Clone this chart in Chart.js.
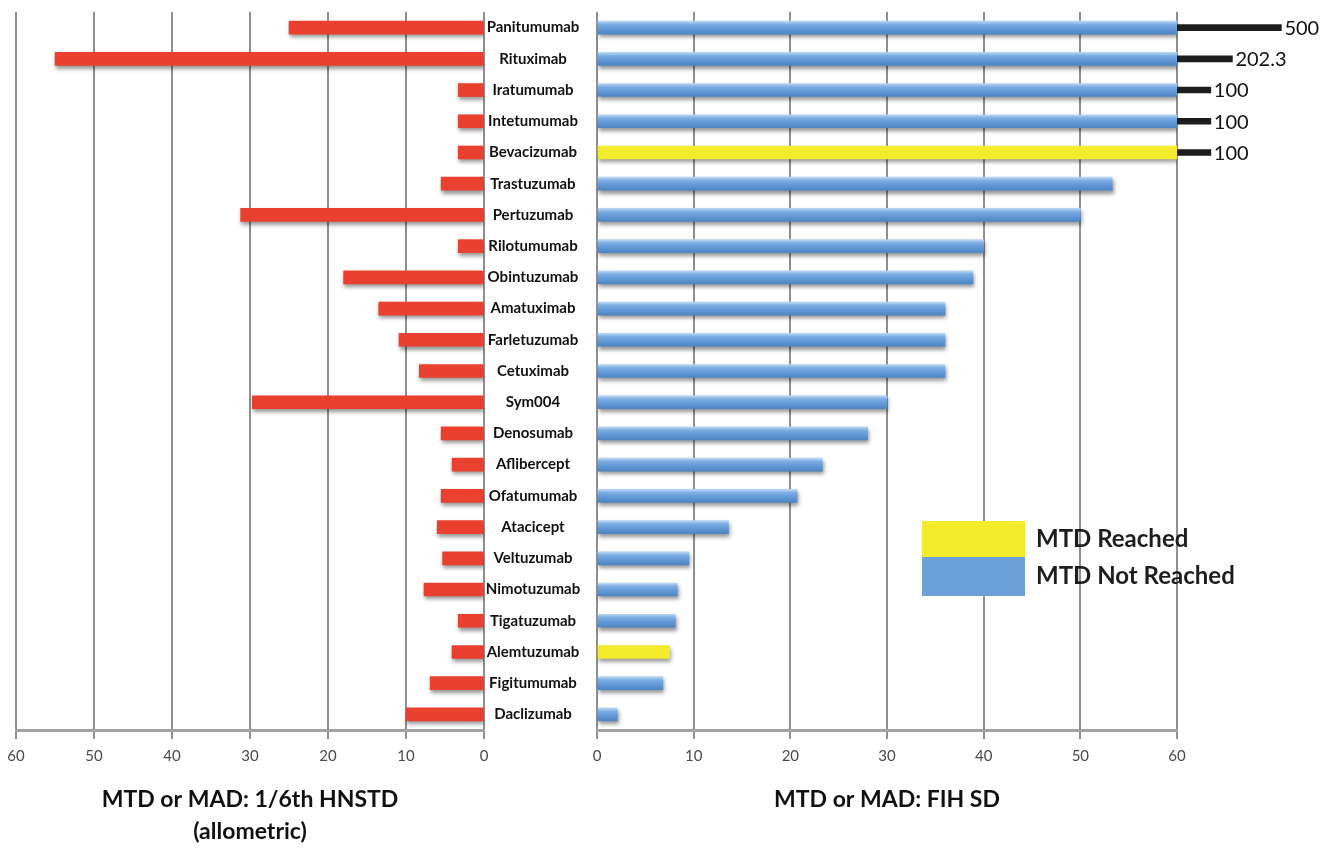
<!DOCTYPE html>
<html>
<head>
<meta charset="utf-8">
<title>MTD or MAD: 1/6th HNSTD vs FIH SD</title>
<script src="https://cdn.jsdelivr.net/npm/chart.js@4/dist/chart.umd.min.js"></script>
<style>
  html, body { margin: 0; padding: 0; background: #ffffff; }
  #wrap { position: relative; width: 1320px; height: 853px; overflow: hidden; }
  #leftChart { position: absolute; left: 0; top: 0; }
  #rightChart { position: absolute; left: 472px; top: 0; }
</style>
</head>
<body>
<div id="wrap">
  <canvas id="leftChart" width="500" height="853"></canvas>
  <canvas id="rightChart" width="848" height="853"></canvas>
</div>
<script>
// ---- data ----
const drugs = [
  'Panitumumab', 'Rituximab', 'Iratumumab', 'Intetumumab', 'Bevacizumab',
  'Trastuzumab', 'Pertuzumab', 'Rilotumumab', 'Obintuzumab', 'Amatuximab',
  'Farletuzumab', 'Cetuximab', 'Sym004', 'Denosumab', 'Aflibercept',
  'Ofatumumab', 'Atacicept', 'Veltuzumab', 'Nimotuzumab', 'Tigatuzumab',
  'Alemtuzumab', 'Figitumumab', 'Daclizumab'
];
// MTD or MAD expressed as 1/6th HNSTD (allometric)
const hnstdDose = [
  25, 55, 3.3, 3.3, 3.3,
  5.5, 31.2, 3.3, 18, 13.5,
  10.9, 8.3, 29.7, 5.5, 4.1,
  5.5, 6, 5.3, 7.7, 3.3,
  4.1, 6.9, 10
];
// MTD or MAD expressed as first-in-human starting dose
const fihDose = [
  500, 202.3, 100, 100, 100,
  53.3, 50, 40, 38.9, 36,
  36, 36, 30, 28, 23.3,
  20.7, 13.6, 9.5, 8.3, 8.1,
  7.5, 6.8, 2.1
];
const mtdReached = [
  false, false, false, false, true,
  false, false, false, false, false,
  false, false, false, false, false,
  false, false, false, false, false,
  true, false, false
];
const axisTicks = [0, 10, 20, 30, 40, 50, 60];
const AXIS_MAX = 60;

const leftTitle = ['MTD or MAD: 1/6th HNSTD', '(allometric)'];
const rightTitle = 'MTD or MAD: FIH SD';
const legendLabels = ['MTD Reached', 'MTD Not Reached'];

// ---- styling ----
const RED = '#e9402f';
const YELLOW = '#f3ea2c';
const BLUE = '#6ba0d9';
const OVERFLOW = '#1d1d1d';
const GRID = '#8e8e8e';
const FONT = 'Lato, "Open Sans", "DejaVu Sans", sans-serif';
const LABEL_SIZE = 15;

Chart.defaults.font.family = FONT;
Chart.defaults.animation = false;

// Doses beyond the axis are continued past the 60 line on a compressed length.
function overflowEnd(v) {
  return AXIS_MAX + 3.5 * Math.pow(v / 100, 0.7);
}

function fixedTicks(scale) {
  scale.ticks = axisTicks.map(v => ({ value: v }));
}

function blueFill(c) {
  const chart = c.chart;
  const y = chart.scales && chart.scales.y;
  if (c.type !== 'data' || !y || !chart.chartArea) return BLUE;
  const yc = y.getPixelForValue(c.dataIndex);
  const h = 12;
  const g = chart.ctx.createLinearGradient(0, yc - h / 2, 0, yc + h / 2);
  g.addColorStop(0, '#b4d2f1');
  g.addColorStop(0.22, '#7eaee2');
  g.addColorStop(0.6, '#6299d6');
  g.addColorStop(1, '#4f86c4');
  return g;
}

// Soft drop shadow under flagged datasets.
const shadowPlugin = {
  id: 'barShadow',
  beforeDatasetDraw(chart, args) {
    const ds = chart.data.datasets[args.index];
    const ctx = chart.ctx;
    ctx.save();
    if (ds.shadow) {
      ctx.shadowColor = 'rgba(0,0,0,0.42)';
      ctx.shadowBlur = 4;
      ctx.shadowOffsetX = 1;
      ctx.shadowOffsetY = 3;
    }
  },
  afterDatasetDraw(chart) {
    chart.ctx.restore();
  }
};

// Value text at the end of the off-scale segments.
const overflowLabels = {
  id: 'overflowLabels',
  afterDatasetsDraw(chart) {
    const idx = chart.data.datasets.findIndex(d => d.overflow);
    if (idx < 0) return;
    const meta = chart.getDatasetMeta(idx);
    const ctx = chart.ctx;
    ctx.save();
    ctx.font = '20px ' + FONT;
    ctx.fillStyle = '#111111';
    ctx.textAlign = 'left';
    ctx.textBaseline = 'middle';
    meta.data.forEach((el, i) => {
      if (fihDose[i] > AXIS_MAX) {
        ctx.fillText(String(fihDose[i]), el.x + 3, el.y + 1);
      }
    });
    ctx.restore();
  }
};

// Stacked colour-block legend inside the plot.
const blockLegend = {
  id: 'blockLegend',
  afterDatasetsDraw(chart, args, opts) {
    const ctx = chart.ctx;
    const a = chart.chartArea;
    const x = a.left + opts.left;
    let y = opts.top;
    ctx.save();
    ctx.font = 'bold 24px ' + FONT;
    ctx.textAlign = 'left';
    ctx.textBaseline = 'middle';
    opts.items.forEach(item => {
      ctx.fillStyle = item.color;
      ctx.fillRect(x, y, opts.width, item.height);
      ctx.fillStyle = '#1e1e1e';
      ctx.fillText(item.text, x + opts.width + 11, y + item.height / 2);
      y += item.height;
    });
    ctx.restore();
  }
};

function xAxis(title, titlePadBottom, reverse) {
  return {
    type: 'linear',
    position: 'bottom',
    min: 0,
    max: AXIS_MAX,
    reverse: reverse,
    afterBuildTicks: fixedTicks,
    afterFit(s) {
      s.height = 123;
      s.paddingLeft = 0;
      s.paddingRight = 0;
    },
    grid: { color: GRID, lineWidth: 2, tickLength: 9, tickColor: GRID },
    border: { color: '#a2a2a2', width: 3 },
    ticks: { color: '#4a4a4a', font: { size: 15 }, padding: 8, autoSkip: false, maxRotation: 0 },
    title: {
      display: true,
      text: title,
      color: '#111111',
      font: { size: 23, weight: 'bold', lineHeight: 1.4 },
      padding: { top: 0, bottom: titlePadBottom }
    }
  };
}

// ---- left panel ----
new Chart(document.getElementById('leftChart'), {
  type: 'bar',
  data: {
    labels: drugs,
    datasets: [{
      label: '1/6th HNSTD',
      data: hnstdDose,
      backgroundColor: RED,
      barThickness: 13,
      shadow: true
    }]
  },
  options: {
    responsive: false,
    indexAxis: 'y',
    layout: { padding: { left: 16, right: 16, top: 12, bottom: 0 } },
    plugins: { legend: { display: false }, tooltip: { enabled: false } },
    scales: {
      x: xAxis(leftTitle, 5, true),
      y: {
        display: false,
        afterFit(s) { s.paddingTop = 0; s.paddingBottom = 0; }
      }
    }
  },
  plugins: [shadowPlugin]
});

// ---- right panel ----
const measureCtx = document.createElement('canvas').getContext('2d');
measureCtx.font = 'bold ' + LABEL_SIZE + 'px ' + FONT;
const widestLabel = Math.max(...drugs.map(d => measureCtx.measureText(d).width));
const labelAxisWidth = 125;
const labelCenter = 61;
const cappedDose = fihDose.map(v => Math.min(v, AXIS_MAX));

new Chart(document.getElementById('rightChart'), {
  type: 'bar',
  data: {
    labels: drugs,
    datasets: [
      {
        label: legendLabels[0],
        data: cappedDose.map((v, i) => (mtdReached[i] ? v : null)),
        backgroundColor: YELLOW,
        barThickness: 13,
        shadow: true
      },
      {
        label: legendLabels[1],
        data: cappedDose.map((v, i) => (mtdReached[i] ? null : v)),
        backgroundColor: blueFill,
        barThickness: 13,
        shadow: true
      },
      {
        label: 'off-scale',
        data: fihDose.map(v => (v > AXIS_MAX ? [AXIS_MAX, overflowEnd(v)] : null)),
        backgroundColor: OVERFLOW,
        barThickness: 6,
        overflow: true,
        clip: false
      }
    ]
  },
  options: {
    responsive: false,
    indexAxis: 'y',
    datasets: { bar: { grouped: false } },
    layout: { padding: { left: 0, right: 143, top: 12, bottom: 0 } },
    plugins: {
      legend: { display: false },
      tooltip: { enabled: false },
      blockLegend: {
        left: 325,
        top: 521,
        width: 103,
        items: [
          { text: legendLabels[0], color: YELLOW, height: 36 },
          { text: legendLabels[1], color: BLUE, height: 39 }
        ]
      }
    },
    scales: {
      x: xAxis(rightTitle, 37, false),
      y: {
        position: 'left',
        afterFit(s) {
          s.width = labelAxisWidth;
          s.paddingTop = 0;
          s.paddingBottom = 0;
        },
        grid: { display: false, drawTicks: false },
        border: { display: false },
        ticks: {
          autoSkip: false,
          crossAlign: 'center',
          padding: labelAxisWidth - labelCenter - widestLabel / 2,
          color: '#111111',
          font: { size: LABEL_SIZE, weight: 'bold' }
        }
      }
    }
  },
  plugins: [shadowPlugin, overflowLabels, blockLegend]
});
</script>
</body>
</html>
